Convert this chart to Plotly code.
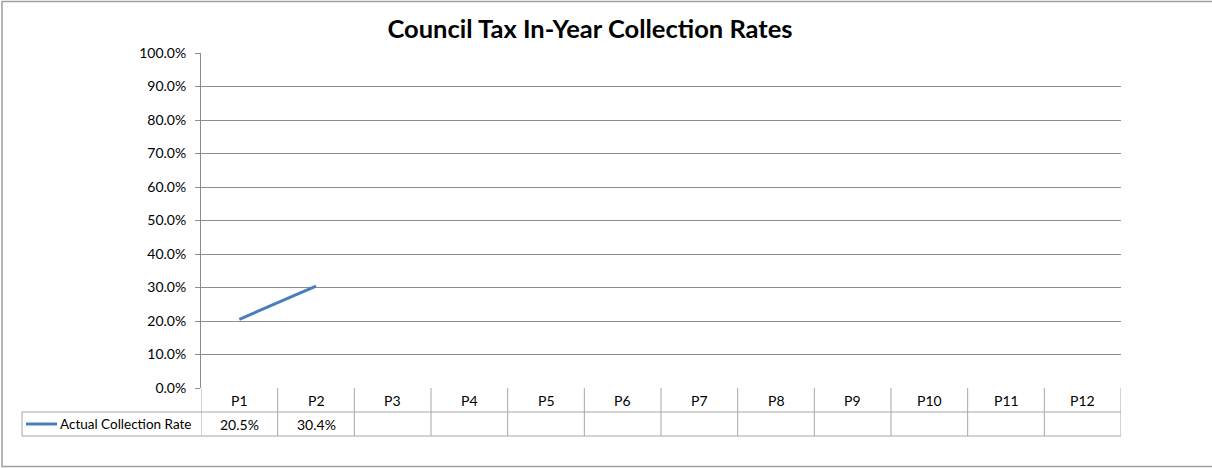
import plotly.graph_objects as go

# ---- data ----
periods = ["P1", "P2", "P3", "P4", "P5", "P6", "P7", "P8", "P9", "P10", "P11", "P12"]
actual_rate = [0.205, 0.304, None, None, None, None, None, None, None, None, None, None]
series_name = "Actual Collection Rate"
title_text = "Council Tax In-Year Collection Rates"
y_ticks = [0, 0.1, 0.2, 0.3, 0.4, 0.5, 0.6, 0.7, 0.8, 0.9, 1.0]

# ---- layout constants (pixels) ----
W, H = 1212, 468
PL, PR, PT, PB = 201, 1121, 53, 388
pw, ph = PR - PL, PB - PT
ROW = 24
FONT = "Lato, 'Open Sans', sans-serif"
FS = 14
LINE_COLOR = "#4A7EBB"
GRID = "#8c8c8c"
TBL = "#a6a6a6"


def px_x(p):
    return (p - PL) / pw


def px_y(p):
    return (PB - p) / ph


fig = go.Figure()
fig.add_trace(go.Scatter(
    x=periods, y=actual_rate, mode="lines", name=series_name,
    line=dict(color=LINE_COLOR, width=3), connectgaps=False, showlegend=False,
    hoverinfo="x+y",
))

shapes = []
annotations = []

# outer chart border
shapes.append(dict(type="rect", xref="paper", yref="paper",
                   x0=px_x(2), x1=px_x(1214), y0=px_y(466.5), y1=px_y(1.5),
                   line=dict(color="#a0a0a0", width=1.5), layer="below"))

# table: vertical separators at category boundaries
n = len(periods)
for i in range(n + 1):
    shapes.append(dict(type="line", xref="x", yref="paper",
                       x0=i - 0.5, x1=i - 0.5, y0=px_y(PB), y1=px_y(PB + 2 * ROW),
                       line=dict(color=TBL, width=1)))
# horizontal rows
for k in (1, 2):
    shapes.append(dict(type="line", xref="paper", yref="paper",
                       x0=px_x(22), x1=1, y0=px_y(PB + k * ROW), y1=px_y(PB + k * ROW),
                       line=dict(color=TBL, width=1)))
# left border of legend cell
shapes.append(dict(type="line", xref="paper", yref="paper",
                   x0=px_x(22), x1=px_x(22), y0=px_y(PB + ROW), y1=px_y(PB + 2 * ROW),
                   line=dict(color=TBL, width=1)))
# legend key line
shapes.append(dict(type="line", xref="paper", yref="paper",
                   x0=px_x(26), x1=px_x(57), y0=px_y(PB + 1.5 * ROW), y1=px_y(PB + 1.5 * ROW),
                   line=dict(color=LINE_COLOR, width=3)))

# category labels (header row)
for i, p in enumerate(periods):
    annotations.append(dict(x=i, xref="x", y=px_y(PB + 0.5 * ROW), yref="paper",
                            text=p, showarrow=False, xanchor="center", yanchor="middle",
                            font=dict(family=FONT, size=FS, color="#000")))
# values row
for i, v in enumerate(actual_rate):
    if v is not None:
        annotations.append(dict(x=i, xref="x", y=px_y(PB + 1.5 * ROW), yref="paper",
                                text=f"{v*100:.1f}%", showarrow=False,
                                xanchor="center", yanchor="middle",
                                font=dict(family=FONT, size=FS, color="#000")))
# legend text
annotations.append(dict(x=px_x(58), xref="paper", y=px_y(PB + 1.5 * ROW), yref="paper",
                        text=series_name, showarrow=False, xanchor="left", yanchor="middle",
                        font=dict(family=FONT, size=13.5, color="#000")))

fig.update_layout(
    width=W, height=H,
    margin=dict(l=PL, r=W - PR, t=PT, b=H - PB, pad=0),
    paper_bgcolor="white", plot_bgcolor="white",
    title=dict(text=f"<b>{title_text}</b>", x=590 / W, xanchor="center",
               y=1 - 29 / H, yanchor="middle",
               font=dict(family=FONT, size=25.5, color="#000")),
    font=dict(family=FONT, size=FS, color="#000"),
    xaxis=dict(type="category", categoryorder="array", categoryarray=periods,
               range=[-0.5, n - 0.5], showticklabels=False, ticks="",
               showgrid=False, zeroline=False, showline=False, fixedrange=True),
    yaxis=dict(range=[0, 1], tickvals=y_ticks, tickformat=".1%",
               showgrid=True, gridcolor=GRID, gridwidth=1,
               showline=True, linecolor=GRID, linewidth=1,
               ticks="outside", ticklen=5, tickcolor=GRID,
               ticklabelstandoff=6, zeroline=False, fixedrange=True,
               tickfont=dict(family=FONT, size=FS, color="#000")),
    shapes=shapes, annotations=annotations, showlegend=False,
)

fig.write_html("out.html")
